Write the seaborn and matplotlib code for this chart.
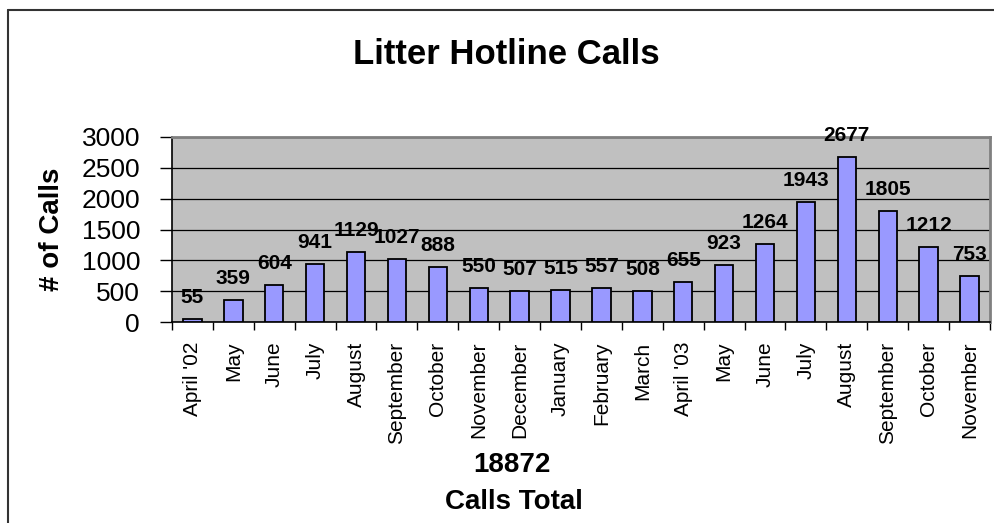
import matplotlib
matplotlib.use("Agg")
import matplotlib.pyplot as plt
from matplotlib.lines import Line2D
import seaborn as sns
import pandas as pd

months = ["April '02", "May", "June", "July", "August", "September", "October",
          "November", "December", "January", "February", "March", "April '03",
          "May ", "June ", "July ", "August ", "September ", "October ", "November "]
calls = [55, 359, 604, 941, 1129, 1027, 888, 550, 507, 515, 557, 508, 655,
         923, 1264, 1943, 2677, 1805, 1212, 753]
yticks = [0, 500, 1000, 1500, 2000, 2500, 3000]
title = "Litter Hotline Calls"
ylabel = "# of Calls"
total_label = "Calls Total"

df = pd.DataFrame({"month": months, "calls": calls})

sns.set_theme(style="white")
plt.rcParams["font.family"] = ["Liberation Sans", "DejaVu Sans"]
plt.rcParams["text.color"] = "black"
plt.rcParams["axes.labelcolor"] = "black"
plt.rcParams["xtick.color"] = "black"
plt.rcParams["ytick.color"] = "black"
plt.rcParams["xtick.labelcolor"] = "black"
plt.rcParams["ytick.labelcolor"] = "black"

fig = plt.figure(figsize=(9.95, 5.23), dpi=100)
W, H = 995, 523
ax = fig.add_axes([172 / W, 1 - 322 / H, (990 - 172) / W, (322 - 137) / H])
ax.set_facecolor("#C0C0C0")

sns.barplot(data=df, x="month", y="calls", color="#9999FF", edgecolor="black",
            linewidth=1.3, width=0.45, saturation=1, ax=ax, zorder=3)

ax.set_ylim(0, 3000)
ax.set_xlim(-0.5, len(months) - 0.5)
ax.set_yticks(yticks)
ax.set_yticklabels([str(t) for t in yticks], fontsize=19, color="black")
ax.yaxis.grid(True, color="black", linewidth=0.9, zorder=1)
ax.set_axisbelow(True)

ax.set_xticks(range(len(months)))
ax.set_xticklabels([m.strip() for m in months], rotation=90, fontsize=15, color="black")
ax.tick_params(axis="x", length=0, pad=14)
ax.set_xticks([i + 0.5 for i in range(-1, len(months))], minor=True)
ax.tick_params(axis="x", which="minor", length=6, width=1, color="black", direction="out", bottom=True)
ax.tick_params(axis="y", length=9, width=1, color="black", direction="out", left=True, pad=14)

for s in ["left", "bottom"]:
    ax.spines[s].set_color("black")
    ax.spines[s].set_linewidth(1.2)
for s in ["top", "right"]:
    ax.spines[s].set_color("#808080")
    ax.spines[s].set_linewidth(2)

ax.set_xlabel("")
ax.set_ylabel(ylabel, fontsize=20, fontweight="bold", labelpad=12, color="black")

for i, v in enumerate(calls):
    ax.annotate(str(v), (i, v), xytext=(0, 16), textcoords="offset pixels",
                ha="center", va="baseline", fontsize=15, fontweight="bold",
                color="black", zorder=5)

fig.text(353 / W + 307 / W / 2, 1 - 55 / H, title, ha="center", va="center",
         fontsize=25, fontweight="bold", color="black")
fig.text(512 / W, 1 - 465 / H, str(sum(calls)), ha="center", va="center",
         fontsize=20, fontweight="bold", color="black")
fig.text(514 / W, 1 - 502 / H, total_label, ha="center", va="center",
         fontsize=20, fontweight="bold", color="black")

fig.add_artist(Line2D([8 / W, 8 / W], [0, 1 - 10 / H], transform=fig.transFigure,
                      color="#333333", linewidth=1.5))
fig.add_artist(Line2D([8 / W, 1], [1 - 10 / H, 1 - 10 / H], transform=fig.transFigure,
                      color="#333333", linewidth=1.5))

fig.savefig("out.png", dpi=100)
